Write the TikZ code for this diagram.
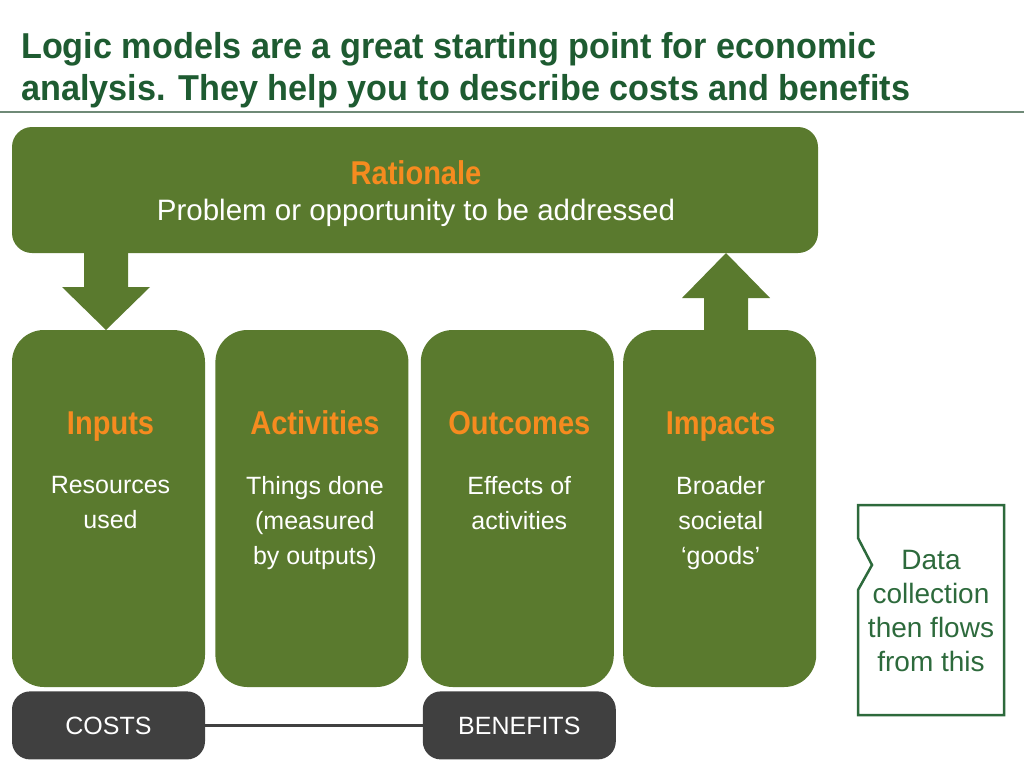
\documentclass[tikz,border=0pt]{standalone}
\usepackage{fontspec}
\setmainfont{Liberation Sans}
\newfontfamily\titlefont[FakeStretch=0.95]{Liberation Sans}
\newfontfamily\narrowfont[FakeStretch=0.88]{Liberation Sans}
\usepackage{tikz}
\usetikzlibrary{positioning}
\definecolor{boxgreen}{HTML}{5A7A2E}
\definecolor{labelorange}{HTML}{F68B1F}
\definecolor{titlegreen}{HTML}{1E5B31}
\definecolor{darkbar}{HTML}{404040}
\definecolor{rulegray}{HTML}{6F8A77}
\definecolor{datagreen}{HTML}{2D6A3C}
\tikzstyle{rationalebox} = [rectangle, rounded corners=20pt, fill=boxgreen, minimum width=806pt, minimum height=126pt, inner sep=0pt]
\tikzstyle{stage} = [rectangle, rounded corners=32pt, fill=boxgreen, minimum width=193pt, minimum height=357pt, inner sep=0pt]
\tikzstyle{stagelabel} = [anchor=base, inner sep=0pt, text=labelorange, font=\narrowfont\bfseries\fontsize{33}{36}\selectfont]
\tikzstyle{stagetext} = [anchor=north, inner sep=0pt, text=white, align=center, font=\fontsize{25}{35}\selectfont]
\tikzstyle{bar} = [rectangle, rounded corners=18pt, fill=darkbar, text=white, minimum width=193pt, minimum height=68pt, inner sep=0pt, font=\fontsize{25}{30}\selectfont]
\tikzstyle{link} = [draw=darkbar, line width=3pt]
\tikzstyle{blockarrow} = [fill=boxgreen]

\begin{document}
\begin{tikzpicture}[x=1pt, y=-1pt]
	\useasboundingbox (0,0) rectangle (1024,768);
	\node[anchor=north west, inner sep=0pt, align=left, text=titlegreen, font=\titlefont\bfseries\fontsize{36}{42}\selectfont] (title) at (21,32) {Logic models are a great starting point for economic\\analysis. They help you to describe costs and benefits};
	\draw[rulegray, line width=2pt] (0,112) -- (1024,112);

	\node[rationalebox] (rationale) at (415,190) {};
	\node[stagelabel] (rationaleL) at (416,184) {Rationale};
	\node[anchor=base, inner sep=0pt, text=white, font=\fontsize{29.5}{34}\selectfont] (rationaleT) at (416,220) {Problem or opportunity to be addressed};

	\node[stage] (inputs) at (108.5,508.5) {};
	\node[stage, right=10pt of inputs] (activities) {};
	\node[stage, right=12pt of activities] (outcomes) {};
	\node[stage, right=9pt of outcomes] (impacts) {};

	\node[stagelabel] (inputsL) at ([xshift=2pt, yshift=-105pt]inputs.north) {Inputs};
	\node[stagelabel] (activitiesL) at ([xshift=3pt, yshift=-105pt]activities.north) {Activities};
	\node[stagelabel] (outcomesL) at ([xshift=2pt, yshift=-105pt]outcomes.north) {Outcomes};
	\node[stagelabel] (impactsL) at ([xshift=1pt, yshift=-105pt]impacts.north) {Impacts};

	\node[stagetext] (inputsT) at ([xshift=2pt, yshift=-146pt]inputs.north) {Resources\\used};
	\node[stagetext] (activitiesT) at ([xshift=3pt, yshift=-146pt]activities.north) {Things done\\(measured\\by outputs)};
	\node[stagetext] (outcomesT) at ([xshift=2pt, yshift=-146pt]outcomes.north) {Effects of\\activities};
	\node[stagetext] (impactsT) at ([xshift=1pt, yshift=-146pt]impacts.north) {Broader\\societal\\`goods'};

	\fill[blockarrow] (84,253) -- (128,253) -- (128,287) -- (150,287) -- (106,330) -- (62,287) -- (84,287) -- cycle;
	\fill[blockarrow] (704,331) -- (748,331) -- (748,298) -- (770,298) -- (726,253) -- (682,298) -- (704,298) -- cycle;

	\node[bar, below=4pt of inputs] (costs) {COSTS};
	\node[bar, below=4pt of outcomes, xshift=2pt] (benefits) {BENEFITS};
	\draw[link] (costs) -- (benefits);

	\draw[datagreen, line width=2.5pt] (858,505) -- (1004,505) -- (1004,715) -- (858,715) -- (858,590) -- (872,565) -- (858,538) -- cycle;
	\node[inner sep=0pt, align=center, text=datagreen, font=\fontsize{28}{34}\selectfont] (data) at (931,611) {Data\\collection\\then flows\\from this};
\end{tikzpicture}
\end{document}
